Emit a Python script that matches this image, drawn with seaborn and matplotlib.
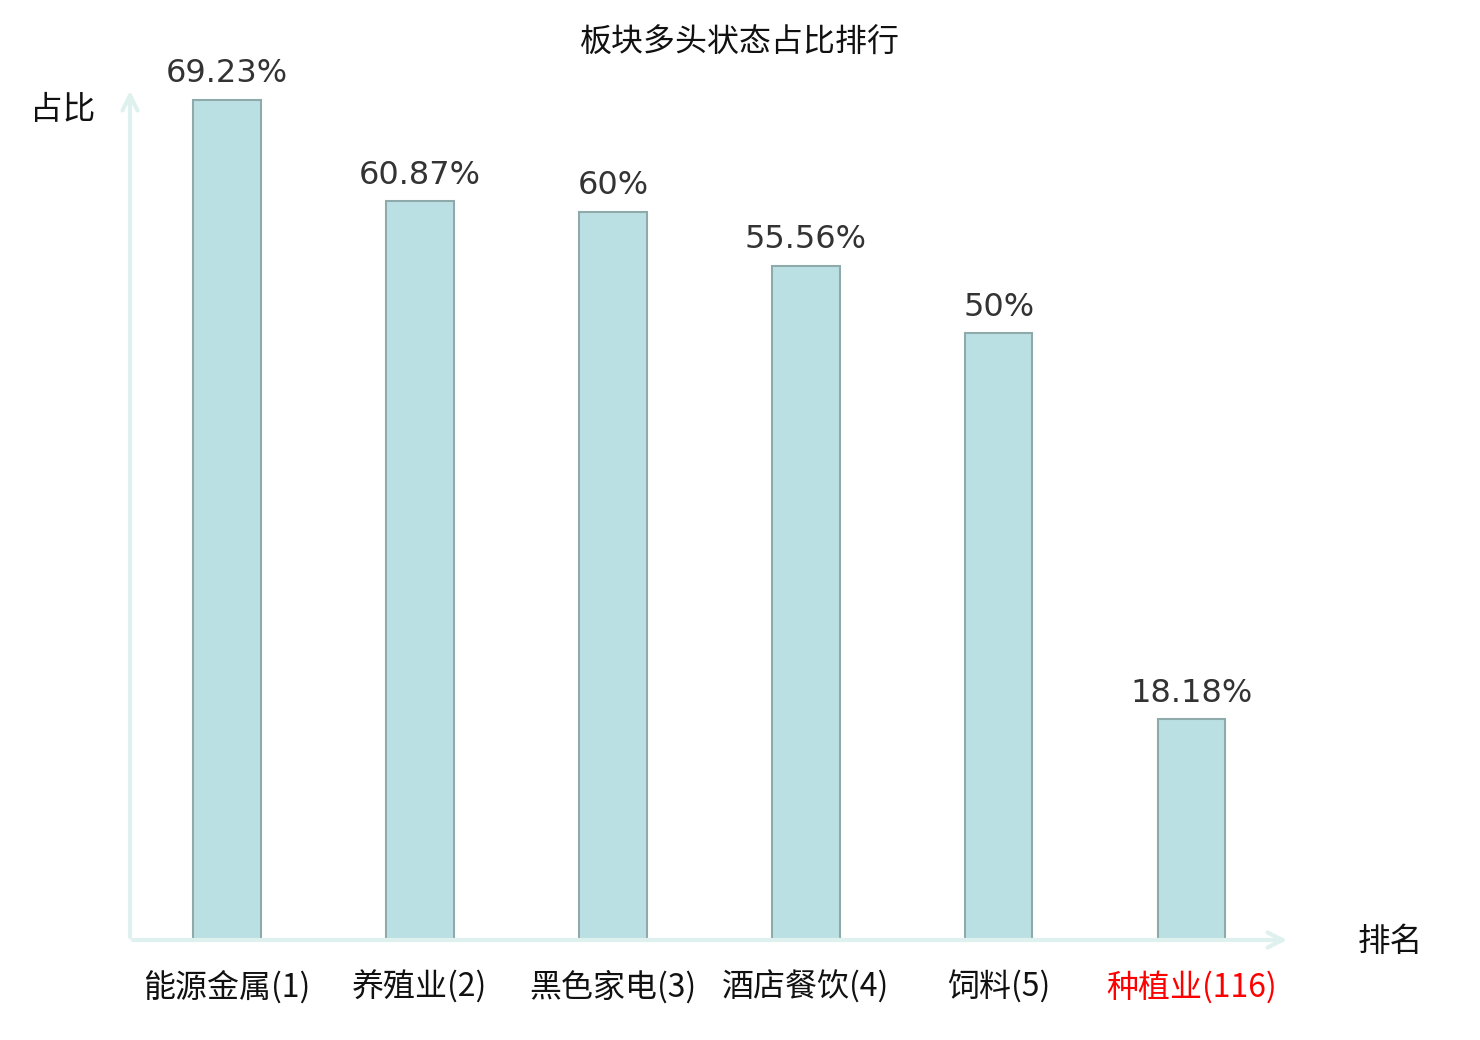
import numpy as np
import pandas as pd
import matplotlib
matplotlib.use('Agg')
import matplotlib.pyplot as plt
import seaborn as sns

# data
sectors = ['能源金属', '养殖业', '黑色家电', '酒店餐饮', '饲料', '种植业']
ranks = [1, 2, 3, 4, 5, 116]
ratios = [69.23, 60.87, 60, 55.56, 50, 18.18]
ratio_labels = ['69.23%', '60.87%', '60%', '55.56%', '50%', '18.18%']

sns.set_theme(style='white')
plt.rcParams['font.family'] = ['Noto Sans CJK SC', 'DejaVu Sans']
plt.rcParams['axes.unicode_minus'] = False

df = pd.DataFrame({'sector': [f'{s}({r})' for s, r in zip(sectors, ranks)],
                   'ratio': ratios})

fig = plt.figure(figsize=(14.8, 10.4), dpi=100)
ax = fig.add_axes([130 / 1480, 100 / 1040, 1160 / 1480, 852 / 1040])

sns.barplot(data=df, x='sector', y='ratio', ax=ax, width=0.35,
            color='#bbe0e3', edgecolor='#8faaab', linewidth=1.5, saturation=1)

ax.set_xlim(-0.503, 5.51)
ax.set_ylim(0, 70.2)
for sp in ax.spines.values():
    sp.set_visible(False)
ax.set_yticks([])
ax.tick_params(axis='x', length=0, pad=22)
ax.set_xlabel('')
ax.set_ylabel('')
for lbl in ax.get_xticklabels():
    lbl.set_fontsize(23)
    lbl.set_color('#111111')
ax.get_xticklabels()[-1].set_color('#ff0000')

# value labels on top of bars
for i, (v, t) in enumerate(zip(ratios, ratio_labels)):
    ax.text(i, v + 0.85, t, ha='center', va='bottom', fontsize=23,
            color='#333333', family=['DejaVu Sans'])

# axis arrows
axis_color = '#dff1ef'
ax.annotate('', xy=(1, 0), xytext=(0, 0), xycoords='axes fraction',
            arrowprops=dict(arrowstyle='->,head_length=0.9,head_width=0.45',
                            color=axis_color, lw=3), clip_on=False)
ax.annotate('', xy=(0, 1), xytext=(0, 0), xycoords='axes fraction',
            arrowprops=dict(arrowstyle='->,head_length=0.9,head_width=0.45',
                            color=axis_color, lw=3), clip_on=False)

fig.text(1390 / 1480, 1 - 942 / 1040, '排名', ha='center', va='center',
         fontsize=23.5, color='#111111')
fig.text(63 / 1480, 1 - 110 / 1040, '占比', ha='center', va='center',
         fontsize=23.5, color='#111111')
fig.text(740 / 1480, 1 - 43 / 1040, '板块多头状态占比排行', ha='center', va='center',
         fontsize=23, color='#111111')

fig.savefig('out.png', dpi=100, facecolor='white')
